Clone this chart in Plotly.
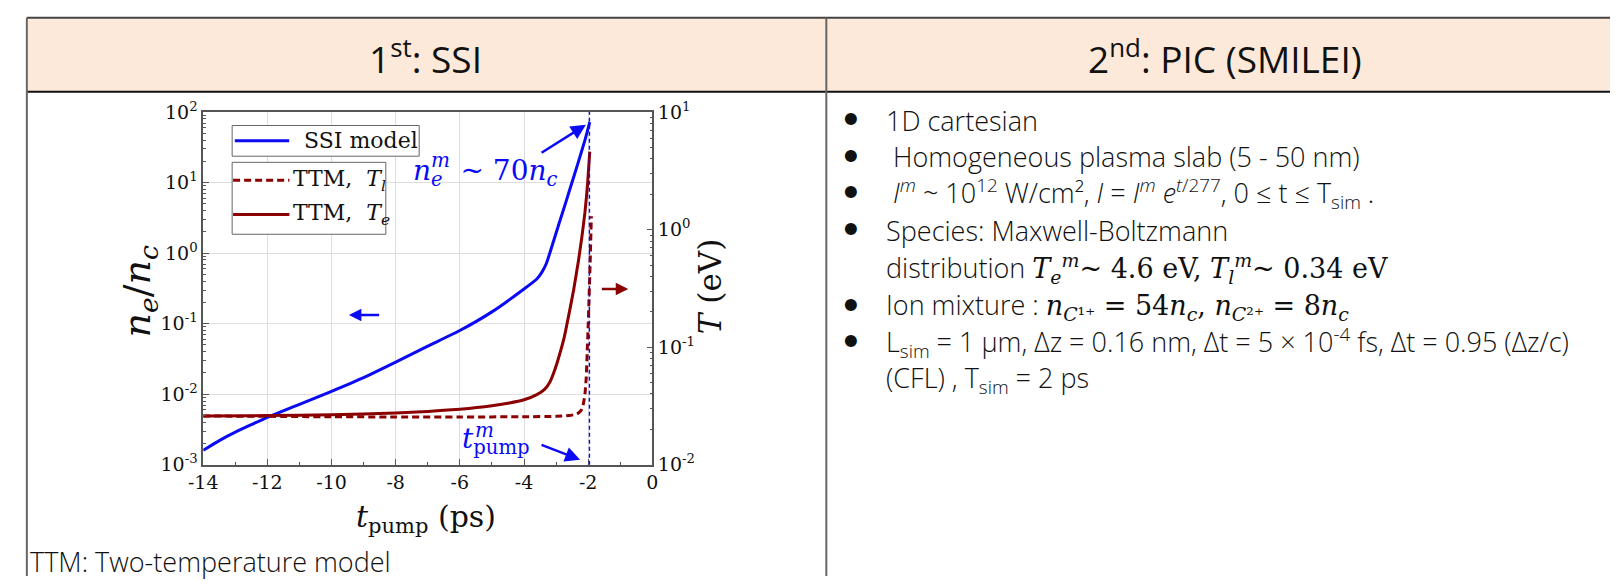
import math
import plotly.graph_objects as go

# ---------------- data ----------------
t_ssi = [-14.0, -13.5, -13.0, -12.5, -12.0, -11.0, -10.0, -9.0, -8.0, -7.0, -6.0, -5.0,
         -4.0, -3.6, -3.45, -3.3, -3.1, -2.9, -2.7, -2.5, -2.3, -2.1, -1.95]
ne_ssi = [0.0016, 0.0022, 0.0029, 0.0037, 0.0047, 0.0072, 0.011, 0.0172, 0.0285, 0.048, 0.080, 0.147,
          0.31, 0.43, 0.53, 0.72, 1.38, 2.7, 5.2, 10.2, 20.0, 40.0, 72.0]

t_te = [-14.0, -12.0, -10.0, -8.0, -7.0, -6.0, -5.0, -4.5, -4.0, -3.6, -3.35, -3.2, -3.05,
        -2.9, -2.75, -2.6, -2.45, -2.3, -2.2, -2.1, -2.02, -1.95]
Te = [0.026, 0.0262, 0.0266, 0.0275, 0.0284, 0.0297, 0.0318, 0.0334, 0.0357, 0.0395, 0.044, 0.050, 0.063,
      0.085, 0.12, 0.19, 0.31, 0.55, 0.85, 1.4, 2.4, 4.6]

t_tl = [-14.0, -12.0, -10.0, -8.0, -6.0, -4.0, -3.0, -2.6, -2.4, -2.3, -2.22, -2.15, -2.1,
        -2.06, -2.03, -2.0, -1.97, -1.94, -1.9]
Tl = [0.026, 0.0258, 0.0256, 0.0255, 0.0255, 0.0256, 0.0258, 0.0262, 0.0268, 0.0276, 0.029, 0.033, 0.040,
      0.055, 0.09, 0.15, 0.27, 0.5, 1.3]

t_m = -1.96

x_tickvals = [-14, -12, -10, -8, -6, -4, -2, 0]
x_ticktext = ["-14", "-12", "-10", "-8", "-6", "-4", "-2", "0"]
x_minorvals = [-13, -11, -9, -7, -5, -3, -1]
y1_tickvals = [1e-3, 1e-2, 1e-1, 1, 10, 100]
y1_ticktext = ["10<sup>-3</sup>", "10<sup>-2</sup>", "10<sup>-1</sup>", "10<sup>0</sup>", "10<sup>1</sup>", "10<sup>2</sup>"]
y2_tickvals = [1e-2, 1e-1, 1, 10]
y2_ticktext = ["10<sup>-2</sup>", "10<sup>-1</sup>", "10<sup>0</sup>", "10<sup>1</sup>"]

header_left = "1<sup>st</sup>: SSI"
header_right = "2<sup>nd</sup>: PIC (SMILEI)"
MATH = "font-family:'DejaVu Serif'"
bullet_lines = [
    "1D cartesian",
    " Homogeneous plasma slab (5 - 50 nm)",
    " <i>I</i><sup><i>m</i></sup> ~ 10<sup>12</sup> W/cm², <i>I</i> = <i>I</i><sup><i>m</i></sup> <i>e</i><sup><i>t</i>/277</sup>, 0 ≤ t ≤ T<sub>sim</sub> .",
    "Species: Maxwell-Boltzmann",
    "distribution <span style=\"" + MATH + "\"><i>T</i><sub><i>e</i></sub><sup><i>m</i></sup>~ 4.6 eV, <i>T</i><sub><i>l</i></sub><sup><i>m</i></sup>~ 0.34 eV</span>",
    "Ion mixture : <span style=\"" + MATH + "\"><i>n</i><sub><i>C</i>¹⁺</sub> = 54<i>n</i><sub><i>c</i></sub>, <i>n</i><sub><i>C</i>²⁺</sub> = 8<i>n</i><sub><i>c</i></sub></span>",
    "L<sub>sim</sub> = 1 µm, Δz = 0.16 nm, Δt = 5 × 10<sup>-4</sup> fs, Δt = 0.95 (Δz/c)",
    "(CFL) , T<sub>sim</sub> = 2 ps",
]
bullet_flags = [True, True, True, True, False, True, True, False]
bullet_y = [111.7, 150.0, 187.7, 226.7, 266.7, 305.0, 343.3, 381.7]

# ---------------- geometry ----------------
W, H = 1616, 587
PX0, PX1, PY0, PY1 = 190.7, 645.7, 103.3, 471.0


def fx(x):
    return x / W


def fy(y):
    return 1 - y / H


BLUE = "#0A0AF5"
RED = "#8B0000"
AXC = "#555555"
SERIF = "DejaVu Serif"
SANS = "Open Sans"

fig = go.Figure()
fig.add_trace(go.Scatter(x=t_ssi, y=ne_ssi, mode="lines", line=dict(color=BLUE, width=3, shape="spline", smoothing=0.5),
                         yaxis="y", hoverinfo="skip"))
fig.add_trace(go.Scatter(x=t_tl, y=Tl, mode="lines", line=dict(color=RED, width=3, dash="7px,4px", shape="spline", smoothing=0.5),
                         yaxis="y2", hoverinfo="skip"))
fig.add_trace(go.Scatter(x=t_te, y=Te, mode="lines", line=dict(color=RED, width=3, shape="spline", smoothing=0.5),
                         yaxis="y2", hoverinfo="skip"))

tickfont = dict(family=SERIF, size=19, color="#111111")
y1_minor = [m * 10 ** k for k in range(-3, 2) for m in range(2, 10)]
y2_minor = [m * 10 ** k for k in range(-2, 1) for m in range(2, 10)]

fig.update_layout(
    width=W, height=H, margin=dict(l=0, r=0, t=0, b=0, pad=0),
    paper_bgcolor="white", plot_bgcolor="white", showlegend=False,
    xaxis=dict(domain=[fx(PX0), fx(PX1)], range=[-14, 0], tickmode="array", tickvals=x_tickvals, ticktext=x_ticktext,
               ticks="inside", ticklen=6, tickwidth=1, tickcolor=AXC, showline=True, linecolor=AXC, linewidth=1.5,
               mirror=True, showgrid=True, gridcolor="#DEDEDE", gridwidth=1, zeroline=False, tickfont=tickfont,
               minor=dict(tickvals=x_minorvals, ticks="inside", ticklen=3, tickcolor=AXC, showgrid=False)),
    yaxis=dict(domain=[fy(PY1), fy(PY0)], type="log", range=[-3, 2], tickmode="array", tickvals=y1_tickvals,
               ticktext=y1_ticktext, ticks="inside", ticklen=6, tickwidth=1, tickcolor=AXC, showline=True,
               linecolor=AXC, linewidth=1.5, showgrid=True, gridcolor="#DEDEDE", gridwidth=1, zeroline=False,
               tickfont=tickfont,
               minor=dict(tickvals=y1_minor, ticks="inside", ticklen=3, tickcolor=AXC, showgrid=False)),
    yaxis2=dict(overlaying="y", side="right", anchor="x", type="log", range=[-2, 1], tickmode="array",
                tickvals=y2_tickvals, ticktext=y2_ticktext, ticks="inside", ticklen=6, tickwidth=1, tickcolor=AXC,
                showline=True, linecolor=AXC, linewidth=1.5, showgrid=False, zeroline=False, tickfont=tickfont,
                minor=dict(tickvals=y2_minor, ticks="inside", ticklen=3, tickcolor=AXC, showgrid=False)),
)

shapes = []
# table
shapes.append(dict(type="rect", xref="paper", yref="paper", x0=fx(12), x1=1, y0=fy(82), y1=fy(5),
                   fillcolor="#FDE9D9", line=dict(width=0), layer="below"))
for (x0, y0, x1, y1, c) in [(12, 5, 1616, 5, "#444444"), (12, 82, 1616, 82, "#111111"),
                            (12, 5, 12, 587, "#666666"), (822, 5, 822, 587, "#666666")]:
    shapes.append(dict(type="line", xref="paper", yref="paper", x0=fx(x0), x1=fx(x1), y0=fy(y0), y1=fy(y1),
                       line=dict(color=c, width=2), layer="above"))
# legend boxes
for (x0, y0, x1, y1) in [(220, 117.3, 409.5, 149.3), (220, 155.7, 375.7, 230.7)]:
    shapes.append(dict(type="rect", xref="paper", yref="paper", x0=fx(x0), x1=fx(x1), y0=fy(y1), y1=fy(y0),
                       fillcolor="white", line=dict(color="#666666", width=1), layer="above"))
shapes.append(dict(type="line", xref="paper", yref="paper", x0=fx(222.7), x1=fx(277.8), y0=fy(133.3), y1=fy(133.3),
                   line=dict(color=BLUE, width=3), layer="above"))
shapes.append(dict(type="line", xref="paper", yref="paper", x0=fx(221), x1=fx(278), y0=fy(174.3), y1=fy(174.3),
                   line=dict(color=RED, width=3, dash="7px,4px"), layer="above"))
shapes.append(dict(type="line", xref="paper", yref="paper", x0=fx(221), x1=fx(278), y0=fy(210), y1=fy(210),
                   line=dict(color=RED, width=3), layer="above"))
# vertical marker at t_pump^m
shapes.append(dict(type="line", xref="x", yref="y domain", x0=t_m, x1=t_m, y0=0, y1=1,
                   line=dict(color=BLUE, width=1.4, dash="4px,3px"), layer="above"))
fig.update_layout(shapes=shapes)


def ann(x, y, text, size, family=SANS, color="#111111", xanchor="left", yanchor="middle", angle=0, weight=None):
    f = dict(family=family, size=size, color=color)
    if weight:
        f["weight"] = weight
    return dict(x=fx(x), y=fy(y), xref="paper", yref="paper", text=text, showarrow=False, xanchor=xanchor,
                yanchor=yanchor, textangle=angle, font=f, borderpad=0)


anns = []
anns.append(ann(416, 45, header_left, 37, xanchor="center"))
anns.append(ann(1226, 45, header_right, 37, xanchor="center"))
for txt, yy, fl in zip(bullet_lines, bullet_y, bullet_flags):
    if fl:
        anns.append(ann(846.7, yy, "•", 34, family="DejaVu Sans", xanchor="center", weight=700))
    anns.append(ann(881.7, yy, txt, 27, weight=300))
anns.append(ann(14, 572, "TTM: Two-temperature model", 27, weight=300))

# axis titles
anns.append(ann(126, 290, "<i>n</i><sub><i>e</i></sub>/<i>n</i><sub><i>c</i></sub>", 38, family=SERIF,
                xanchor="center", angle=-90))
anns.append(ann(416, 527, "<i>t</i><sub>pump</sub> (ps)", 30, family=SERIF, xanchor="center"))
anns.append(ann(705, 285, "<i>T</i> (eV)", 31, family=SERIF, xanchor="center", angle=-90))
# legend text
anns.append(ann(292, 133.3, "SSI model", 22, family=SERIF))
anns.append(ann(281, 174.3, "TTM,  <i>T</i><sub><i>l</i></sub>", 22, family=SERIF))
anns.append(ann(281, 210, "TTM,  <i>T</i><sub><i>e</i></sub>", 22, family=SERIF))
# math annotations
anns.append(ann(402, 166, "<i>n</i><sub><i>e</i></sub>  ~ 70<i>n</i><sub><i>c</i></sub>", 28, family=SERIF, color=BLUE))
anns.append(ann(420, 153, "<i>m</i>", 20, family=SERIF, color=BLUE))
anns.append(ann(452, 446, "<i>t</i><sub>pump</sub>", 28, family=SERIF, color=BLUE))
anns.append(ann(465, 435, "<i>m</i>", 20, family=SERIF, color=BLUE))


def arrow(xh, yh, xt, yt, color, yref="y", size=1.2, width=2.5):
    return dict(x=xh, y=yh, ax=xt, ay=yt, xref="x", yref=yref, axref="x", ayref=yref, text="", showarrow=True,
                arrowhead=2, arrowsize=size, arrowwidth=width, arrowcolor=color, standoff=0, startstandoff=0)


anns.append(arrow(-2.07, 1.82, -3.50, 1.41, BLUE))
anns.append(arrow(-9.46, -0.877, -8.47, -0.877, BLUE, size=1.0))
anns.append(arrow(-0.75, -0.505, -1.62, -0.505, RED, yref="y2", size=1.0))
anns.append(arrow(-2.25, -2.93, -3.5, -2.71, BLUE))
fig.update_layout(annotations=anns)

fig.write_html("out.html", config={"displayModeBar": False},
               post_script="document.body.style.margin='0px';document.body.style.overflow='hidden';")
